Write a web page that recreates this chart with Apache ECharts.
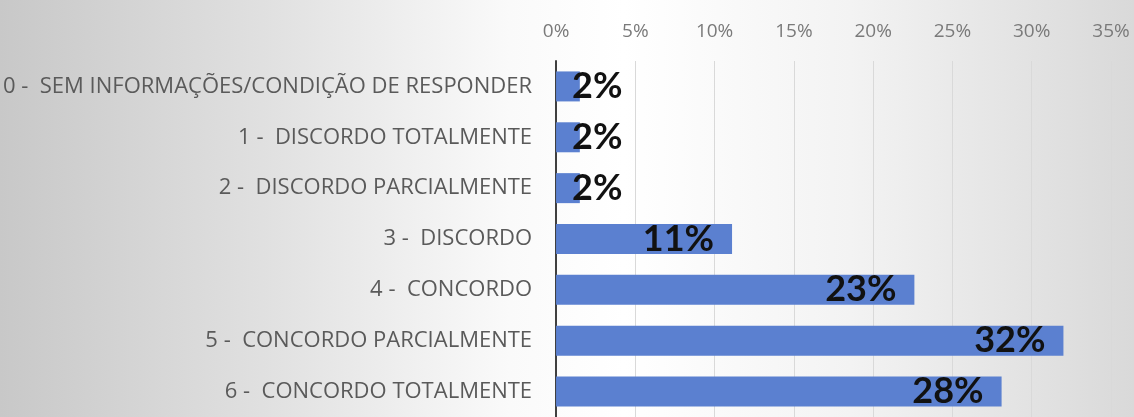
<!DOCTYPE html>
<html>
<head>
<meta charset="utf-8">
<script src="https://cdn.jsdelivr.net/npm/echarts@6/dist/echarts.min.js"></script>
<style>
html,body{margin:0;padding:0;}
#c{width:1134px;height:417px;background:linear-gradient(90deg,#c8c8c8 0%,#e2e2e2 25%,#fafafa 45%,#ffffff 55%,#f3f3f3 75%,#d9d9d9 100%);}
</style>
</head>
<body>
<div id="c"></div>
<script>
const categories = [
  '0 -  SEM INFORMAÇÕES/CONDIÇÃO DE RESPONDER',
  '1 -  DISCORDO TOTALMENTE',
  '2 -  DISCORDO PARCIALMENTE',
  '3 -  DISCORDO',
  '4 -  CONCORDO',
  '5 -  CONCORDO PARCIALMENTE',
  '6 -  CONCORDO TOTALMENTE'
];
const values = [0.015, 0.015, 0.015, 0.111, 0.226, 0.32, 0.281];
const axisMax = 0.35;
const axisStep = 0.05;

const chart = echarts.init(document.getElementById('c'), null, {renderer: 'canvas'});
const labelFont = {fontFamily: 'Lato', fontWeight: 'bold', fontSize: 36, color: '#111111'};
chart.setOption({
  backgroundColor: 'transparent',
  animation: false,
  grid: {left: 555, right: 23, top: 61, height: 360, containLabel: false},
  xAxis: {
    type: 'value', position: 'top', min: 0, max: axisMax, interval: axisStep,
    axisLine: {show: false}, axisTick: {show: false},
    axisLabel: {margin: 20, color: '#7a7a7a', fontFamily: 'Open Sans', fontSize: 19,
      formatter: v => Math.round(v * 100) + '%'},
    splitLine: {show: true, lineStyle: {color: '#d9d9d9', width: 1}}
  },
  yAxis: {
    type: 'category', inverse: true, data: categories,
    axisLine: {show: true, lineStyle: {color: '#404040', width: 2}},
    axisTick: {show: false},
    axisLabel: {margin: 24, color: '#5a5a5a', fontFamily: 'Open Sans', fontSize: 22}
  },
  series: [{
    type: 'bar', barWidth: 30,
    itemStyle: {color: '#5b80d0'},
    label: Object.assign({show: true, position: 'insideRight', distance: 18,
      formatter: p => Math.round(p.value * 100) + '%'}, labelFont),
    data: values.map(v => v < 0.05
      ? {value: v, label: {position: 'insideLeft', distance: 16}}
      : v)
  }]
});
</script>
</body>
</html>
